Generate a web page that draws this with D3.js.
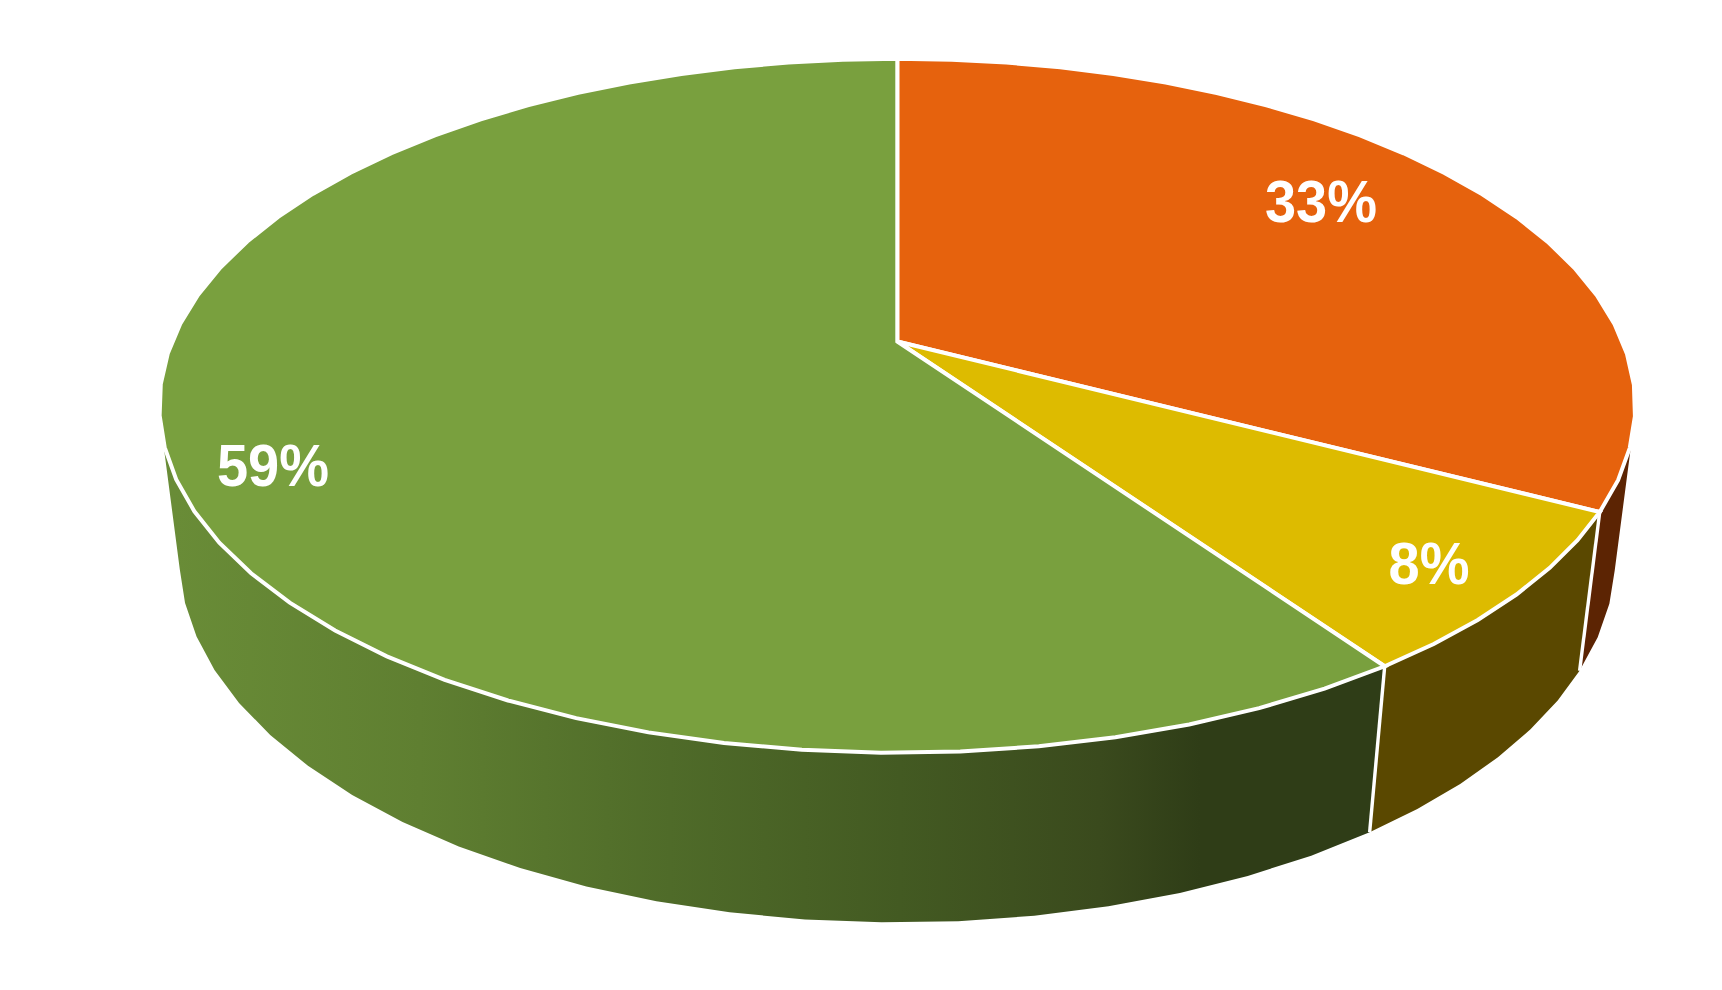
<!DOCTYPE html>
<html><head><meta charset="utf-8">
<script src="https://d3js.org/d3.v7.min.js"></script>
<style>html,body{margin:0;padding:0;background:#fff}svg{display:block}</style></head>
<body><svg id="c" width="1722" height="990"></svg>
<script>
const categories = ["A","B","C"];
const seriesValues = [32.7, 7.65, 59.65];
const labelTexts = ["33%","8%","59%"];
const faceColors = ["#E6620D","#DDBB00","#79A03E"];
const wallColors = ["#5C2403","#5A4800","url(#wallGrad)"];
const wallStops = [[175,"#698C37"],[420,"#5F7F31"],[670,"#4F6B29"],[900,"#435A22"],[1100,"#3A4A1D"],[1200,"#2F3D17"],[1400,"#2F3D17"]];
const labelPos = [[1321,222],[1429,584],[273,486]];

const W=1722,H=990;
const cx=897.3, cy=341.5, a=725.2, d=335.1, h=-0.1851, kZ=0.027, eZ=154, stepDeg=360/70;
function proj(t,z){ // t angle clockwise from top; z 0 top rim,1 bottom rim
  const X=Math.sin(t),Y=-Math.cos(t),D=1+h*Y+kZ*z;
  return [cx+a*X/D, cy+(d*Y+eZ*z)/D];
}
const pie=d3.pie().sort(null).value(v=>v)(seriesValues);
function rim(s){
  const span=s.endAngle-s.startAngle, n=Math.ceil(span/(stepDeg*Math.PI/180));
  return d3.range(n+1).map(k=>s.startAngle+span*k/n);
}
const svg=d3.select("#c");
const grad=svg.append("defs").append("linearGradient").attr("id","wallGrad")
  .attr("gradientUnits","userSpaceOnUse").attr("x1",wallStops[0][0]).attr("x2",wallStops[wallStops.length-1][0]).attr("y1",0).attr("y2",0);
const x0=wallStops[0][0],x1=wallStops[wallStops.length-1][0];
grad.selectAll("stop").data(wallStops).join("stop")
  .attr("offset",s=>(s[0]-x0)/(x1-x0)).attr("stop-color",s=>s[1]);
const line=d3.line();
const frontOnly=t=>t>Math.PI*0.55&&t<Math.PI*1.45;
const gW=svg.append("g");
gW.selectAll("path.w").data(pie).join("path").attr("class","w")
  .attr("d",s=>{
    const ts=rim(s).filter(frontOnly);
    return line([...ts.map(t=>proj(t,0)),...ts.slice().reverse().map(t=>proj(t,1))])+"Z";
  })
  .attr("fill",(s,i)=>wallColors[i]);
// white dividers on the wall
const edges=[pie[0].endAngle,pie[1].endAngle];
gW.selectAll("line.e").data(edges).join("line").attr("class","e")
  .attr("x1",t=>proj(t,0)[0]).attr("y1",t=>proj(t,0)[1])
  .attr("x2",t=>proj(t,1)[0]).attr("y2",t=>proj(t,1)[1])
  .attr("stroke","#fff").attr("stroke-width",3.4);
// top faces
svg.append("g").selectAll("path.f").data(pie).join("path").attr("class","f")
  .attr("d",s=>{const p=[[cx,cy],...rim(s).map(t=>proj(t,0))];return line(p)+"Z";})
  .attr("fill",(s,i)=>faceColors[i]).attr("stroke","#fff").attr("stroke-width",4).attr("stroke-linejoin","miter");
svg.append("g").selectAll("text").data(labelTexts).join("text")
  .attr("transform",(t,i)=>`translate(${labelPos[i][0]},${labelPos[i][1]}) scale(1,1.07)`)
  .attr("text-anchor","middle")
  .attr("font-family","Liberation Sans").attr("font-weight","bold").attr("font-size",56)
  .attr("fill","#fff").text(t=>t);
</script></body></html>
